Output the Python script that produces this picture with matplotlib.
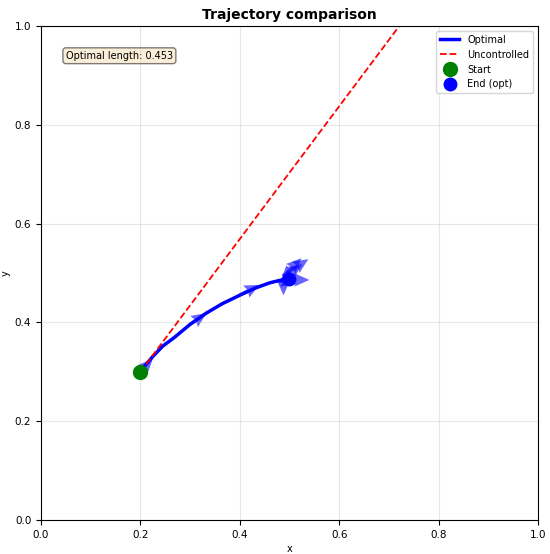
import matplotlib
matplotlib.use("Agg")
import matplotlib.pyplot as plt
import numpy as np

# optimal trajectory
opt_x = [0.200, 0.209, 0.225, 0.245, 0.269, 0.300, 0.333, 0.365, 0.400, 0.430, 0.460, 0.480, 0.492, 0.500]
opt_y = [0.300, 0.312, 0.331, 0.352, 0.370, 0.396, 0.419, 0.438, 0.455, 0.469, 0.480, 0.485, 0.487, 0.488]

# uncontrolled trajectory
unc_x = [0.200, 0.750]
unc_y = [0.300, 1.039]

# control arrows along the path
arr_x = [0.204, 0.297, 0.400, 0.486, 0.490, 0.488, 0.496, 0.502, 0.492, 0.494, 0.484]
arr_y = [0.304, 0.394, 0.456, 0.494, 0.486, 0.490, 0.482, 0.488, 0.494, 0.500, 0.486]
arr_u = [0.021, 0.036, 0.040, 0.052, 0.050, 0.000, -0.002, -0.028, 0.034, 0.030, 0.030]
arr_v = [0.022, 0.025, 0.020, 0.034, 0.000, -0.035, 0.034, -0.006, 0.024, 0.030, -0.008]

start = (0.2, 0.3)
end_opt = (opt_x[-1], opt_y[-1])
opt_length = 0.453

fig = plt.figure(figsize=(5.5, 5.54), dpi=100)
ax = fig.add_axes([0.0745, 0.0614, 0.9036, 0.8916])

ax.plot(opt_x, opt_y, color="blue", lw=2.5, label="Optimal")
ax.plot(unc_x, unc_y, color="red", ls="--", lw=1.3, label="Uncontrolled")
ax.plot(*start, "o", color="green", ms=10, label="Start")
ax.plot(*end_opt, "o", color="blue", ms=9, label="End (opt)")
ax.quiver(arr_x, arr_y, arr_u, arr_v, angles="xy", scale_units="xy", scale=1,
          color="blue", alpha=0.6, width=0.006, headwidth=4.5, headlength=5)

ax.text(0.05, 0.95, f"Optimal length: {opt_length:.3f}", transform=ax.transAxes,
        fontsize=7, va="top", bbox=dict(boxstyle="round", facecolor="wheat", alpha=0.5))

ax.set_xlim(0, 1)
ax.set_ylim(0, 1)
ax.set_xlabel("x", fontsize=7, labelpad=3)
ax.set_ylabel("y", fontsize=7, labelpad=3)
ax.tick_params(labelsize=7.5)
ax.set_title("Trajectory comparison", fontsize=10, fontweight="bold", pad=5)
ax.grid(True, alpha=0.3)
ax.legend(loc="upper right", fontsize=7)

fig.savefig("out.png", dpi=100)
